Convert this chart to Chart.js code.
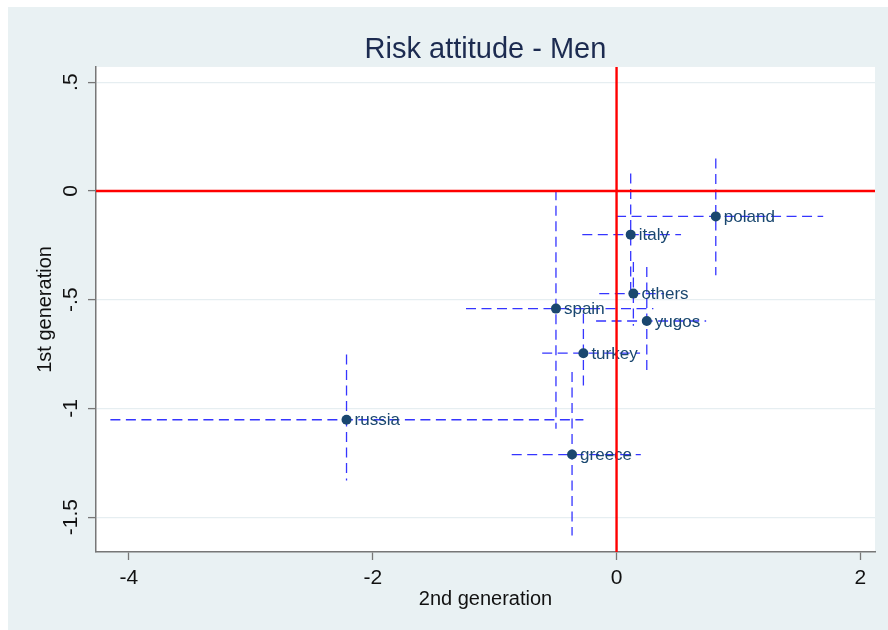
<!DOCTYPE html>
<html>
<head>
<meta charset="utf-8">
<script src="https://cdn.jsdelivr.net/npm/chart.js@4.4.1/dist/chart.umd.min.js"></script>
<style>
  html, body { margin: 0; padding: 0; background: #ffffff; }
  #wrap { position: absolute; left: 8px; top: 7px; width: 880px; height: 623px; }
</style>
</head>
<body>
<div id="wrap"><canvas id="c" width="880" height="623"></canvas></div>
<script>
// Country groups and their estimates (x: 2nd generation, y: 1st generation)
const groups = ['poland', 'italy', 'others', 'spain', 'yugos', 'turkey', 'russia', 'greece'];
const secondGen = [0.814, 0.116, 0.138, -0.497, 0.248, -0.272, -2.215, -0.365];
const secondGenLow = [-0.004, -0.281, -0.142, -1.235, -0.168, -0.610, -4.152, -0.860];
const secondGenHigh = [1.695, 0.529, 0.390, 0.302, 0.735, 0.193, -0.272, 0.199];
const firstGen = [-0.117, -0.201, -0.472, -0.541, -0.598, -0.746, -1.052, -1.212];
const firstGenLow = [-0.388, -0.476, -0.620, -1.093, -0.840, -0.917, -1.331, -1.584];
const firstGenHigh = [0.149, 0.080, -0.327, 0.003, -0.350, -0.564, -0.752, -0.833];

// Axis ranges and ticks
const xRange = [-4.27, 2.12];
const yRange = [-1.66, 0.57];
const xTickValues = [-4, -2, 0, 2];
const xTickLabels = ['-4', '-2', '0', '2'];
const yTickValues = [-1.5, -1, -0.5, 0, 0.5];
const yTickLabels = ['-1.5', '-1', '-.5', '0', '.5'];

const FONT = "'Liberation Sans', Arial, sans-serif";
const NAVY = '#1a476f';
const DASH_BLUE = '#3535ff';

const datasets = [];

// Confidence intervals: horizontal (2nd generation) and vertical (1st generation)
groups.forEach((g, i) => {
  datasets.push({
    label: g + ' 2nd gen. interval',
    data: [{x: secondGenLow[i], y: firstGen[i]}, {x: secondGenHigh[i], y: firstGen[i]}],
    showLine: true, pointRadius: 0, borderColor: DASH_BLUE, borderWidth: 1.3,
    borderDash: [10, 5.5], order: 3
  });
  datasets.push({
    label: g + ' 1st gen. interval',
    data: [{x: secondGen[i], y: firstGenHigh[i]}, {x: secondGen[i], y: firstGenLow[i]}],
    showLine: true, pointRadius: 0, borderColor: DASH_BLUE, borderWidth: 1.3,
    borderDash: [10, 5.5], order: 3
  });
});

// Point estimates
const pointIndex = datasets.length;
datasets.push({
  label: 'estimates',
  data: groups.map((g, i) => ({x: secondGen[i], y: firstGen[i]})),
  showLine: false, pointRadius: 5, pointBackgroundColor: NAVY,
  pointBorderColor: NAVY, pointBorderWidth: 0, order: 2
});

// Zero reference lines
datasets.push({
  label: 'y = 0',
  data: [{x: xRange[0], y: 0}, {x: xRange[1], y: 0}],
  showLine: true, pointRadius: 0, borderColor: '#ff0000', borderWidth: 2.4, order: 1
});
datasets.push({
  label: 'x = 0',
  data: [{x: 0, y: yRange[0]}, {x: 0, y: yRange[1]}],
  showLine: true, pointRadius: 0, borderColor: '#ff0000', borderWidth: 2.4, order: 1
});

// Backgrounds: light outer region, white plot region
const backdrop = {
  id: 'backdrop',
  beforeDraw(chart) {
    const {ctx, chartArea: a} = chart;
    ctx.save();
    ctx.fillStyle = '#e9f1f3';
    ctx.fillRect(0, 0, chart.width, chart.height);
    ctx.fillStyle = '#ffffff';
    ctx.fillRect(a.left, a.top, a.right - a.left, a.bottom - a.top);
    ctx.restore();
  }
};

// Marker labels to the right of each point
const markerLabels = {
  id: 'markerLabels',
  afterDatasetDraw(chart, args) {
    if (args.index !== pointIndex) return;
    const {ctx} = chart;
    ctx.save();
    ctx.font = '17px ' + FONT;
    ctx.fillStyle = NAVY;
    ctx.textAlign = 'left';
    ctx.textBaseline = 'middle';
    args.meta.data.forEach((pt, i) => {
      ctx.fillText(groups[i], pt.x + 8, pt.y + 1);
    });
    ctx.restore();
  }
};

new Chart(document.getElementById('c'), {
  type: 'scatter',
  data: {datasets},
  plugins: [backdrop, markerLabels],
  options: {
    responsive: false,
    devicePixelRatio: 1,
    animation: false,
    events: [],
    layout: {padding: {left: 0, right: 13, top: 0, bottom: 0}},
    plugins: {
      legend: {display: false},
      tooltip: {enabled: false},
      title: {
        display: true,
        text: 'Risk attitude - Men',
        fullSize: false,
        color: '#1c2b50',
        font: {family: FONT, size: 29, weight: 'normal', lineHeight: 1.15},
        padding: {top: 26, bottom: 0.6}
      }
    },
    scales: {
      x: {
        type: 'linear',
        min: xRange[0], max: xRange[1],
        afterBuildTicks: s => { s.ticks = xTickValues.map(v => ({value: v})); },
        afterFit: s => { s.height = 78; },
        ticks: {
          color: '#111111',
          font: {family: FONT, size: 21, lineHeight: 1.2},
          padding: 6,
          maxRotation: 0,
          callback: (v, i) => xTickLabels[i]
        },
        grid: {drawOnChartArea: false, drawTicks: true, tickLength: 8, tickColor: '#777777', tickWidth: 1.3},
        border: {display: true, color: '#777777', width: 1.5},
        title: {
          display: true, text: '2nd generation', color: '#111111',
          font: {family: FONT, size: 20, lineHeight: 1.2},
          padding: {top: 0, bottom: 19}
        }
      },
      y: {
        type: 'linear',
        min: yRange[0], max: yRange[1],
        afterBuildTicks: s => { s.ticks = yTickValues.map(v => ({value: v})); },
        afterFit: s => { s.width = 88; },
        ticks: {
          color: '#111111',
          font: {family: FONT, size: 21, lineHeight: 1.2},
          padding: -1,
          minRotation: 90,
          maxRotation: 90,
          crossAlign: 'center',
          callback: (v, i) => yTickLabels[i]
        },
        grid: {drawOnChartArea: true, color: '#e6eef1', lineWidth: 1.2, drawTicks: true, tickLength: 8, tickColor: '#777777', tickWidth: 1.3},
        border: {display: true, color: '#777777', width: 1.5},
        title: {
          display: true, text: '1st generation', color: '#111111',
          font: {family: FONT, size: 20, lineHeight: 1.2},
          padding: {top: 25, bottom: 0}
        }
      }
    }
  }
});
</script>
</body>
</html>
